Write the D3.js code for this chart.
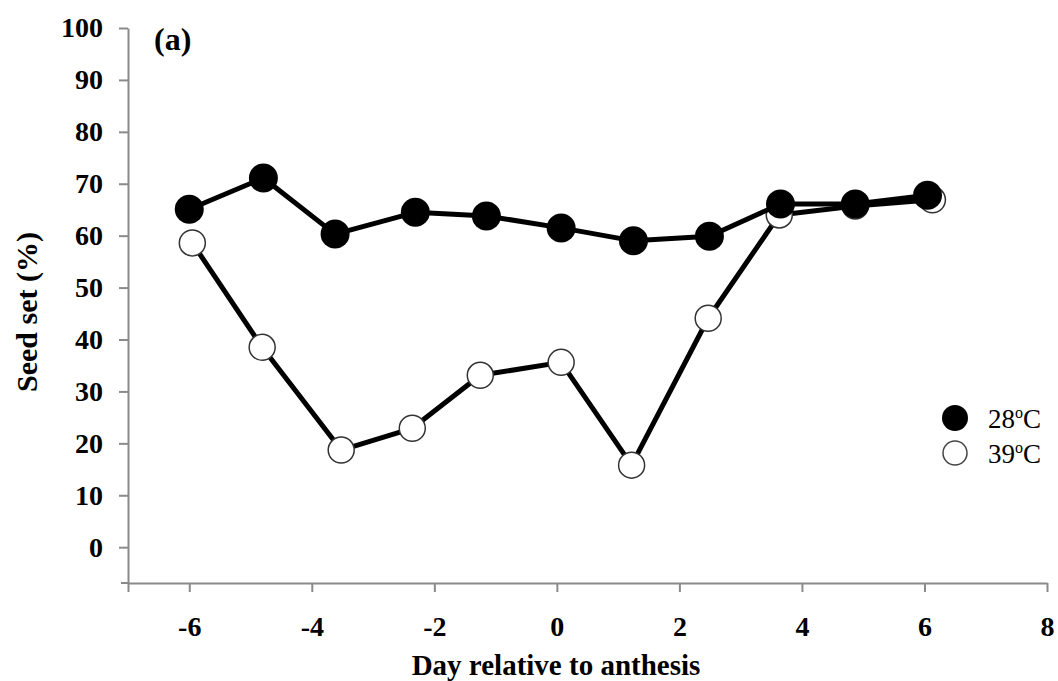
<!DOCTYPE html>
<html>
<head>
<meta charset="utf-8">
<script src="https://cdn.jsdelivr.net/npm/d3@7"></script>
<style>
  body { margin: 0; background: #fff; }
  svg text { font-family: "Liberation Serif", "Times New Roman", serif; font-weight: bold; fill: #000; }
</style>
</head>
<body>
<svg id="chart" width="1058" height="681"></svg>
<script>
// days relative to anthesis
const days28 = [-6.0, -4.79, -3.62, -2.31, -1.15, 0.07, 1.25, 2.49, 3.65, 4.87, 6.05];
const seed28 = [65.1, 71.1, 60.3, 64.5, 63.8, 61.5, 59.0, 59.9, 66.1, 66.1, 67.8];
const days39 = [-5.95, -4.81, -3.52, -2.36, -1.25, 0.07, 1.22, 2.47, 3.63, 4.87, 6.13];
const seed39 = [58.6, 38.5, 18.7, 22.9, 33.1, 35.6, 15.8, 44.1, 64.0, 65.7, 66.9];
const xTicks = [-6, -4, -2, 0, 2, 4, 6, 8];
const yTicks = [0, 10, 20, 30, 40, 50, 60, 70, 80, 90, 100];
const seriesNames = ["28", "39"];

const svg = d3.select("#chart");
const x = d3.scaleLinear().domain([-7, 8]).range([128, 1047]);
const y = d3.scaleLinear().domain([-6.9, 100]).range([583, 28]);

// axes, Excel style: grey lines, outside ticks
const axisCol = "#8a8a8a";
const yAx = svg.append("g").attr("transform", `translate(${x(-7)},0)`)
  .call(d3.axisLeft(y).tickValues(yTicks).tickSize(9).tickPadding(16).tickSizeOuter(0));
const xAx = svg.append("g").attr("transform", `translate(0,${y(-6.9)})`)
  .call(d3.axisBottom(x).tickValues([-7].concat(xTicks)).tickSize(9).tickPadding(24).tickSizeOuter(0)
    .tickFormat(d => d === -7 ? "" : d));
[yAx, xAx].forEach(a => {
  a.select(".domain").attr("stroke", axisCol).attr("stroke-width", 2);
  a.selectAll(".tick line").attr("stroke", axisCol).attr("stroke-width", 2);
  a.selectAll("text").style("font-size", "28px");
});
// small overhang of the x axis to the left of the y axis
svg.append("line").attr("x1", x(-7) - 7).attr("x2", x(-7))
  .attr("y1", y(-6.9)).attr("y2", y(-6.9)).attr("stroke", axisCol).attr("stroke-width", 2);

// titles
svg.append("text").attr("x", 556).attr("y", 675).attr("text-anchor", "middle")
  .style("font-size", "29px").text("Day relative to anthesis");
svg.append("text").attr("transform", "translate(37,312) rotate(-90)").attr("text-anchor", "middle")
  .style("font-size", "30px").text("Seed set (%)");
svg.append("text").attr("x", 154).attr("y", 50).style("font-size", "32px").text("(a)");

const line = d3.line().x(d => x(d[0])).y(d => y(d[1]));
const pts39 = d3.zip(days39, seed39);
const pts28 = d3.zip(days28, seed28);

// 39 °C drawn first, 28 °C on top
svg.append("path").datum(pts39).attr("d", line).attr("fill", "none")
  .attr("stroke", "#000").attr("stroke-width", 5).attr("stroke-linejoin", "round");
svg.selectAll(".p39").data(pts39).join("circle").attr("class", "p39")
  .attr("cx", d => x(d[0])).attr("cy", d => y(d[1])).attr("r", 13)
  .attr("fill", "#fff").attr("stroke", "#333").attr("stroke-width", 1.5);

svg.append("path").datum(pts28).attr("d", line).attr("fill", "none")
  .attr("stroke", "#000").attr("stroke-width", 5).attr("stroke-linejoin", "round");
svg.selectAll(".p28").data(pts28).join("circle").attr("class", "p28")
  .attr("cx", d => x(d[0])).attr("cy", d => y(d[1])).attr("r", 14.5)
  .attr("fill", "#000");

// legend
const leg = svg.append("g").attr("transform", "translate(955,418)");
seriesNames.forEach((n, i) => {
  const g = leg.append("g").attr("transform", `translate(0,${i * 35})`);
  g.append("circle").attr("r", i === 0 ? 13 : 12)
    .attr("fill", i === 0 ? "#000" : "#fff")
    .attr("stroke", i === 0 ? "none" : "#444").attr("stroke-width", 1.5);
  const t = g.append("text").attr("x", 33).attr("y", 10).style("font-size", "27px").style("font-weight", "normal");
  t.append("tspan").text(n);
  t.append("tspan").attr("dy", -10).style("font-size", "16px").text("o");
  t.append("tspan").attr("dy", 10).text("C");
});
</script>
</body>
</html>
